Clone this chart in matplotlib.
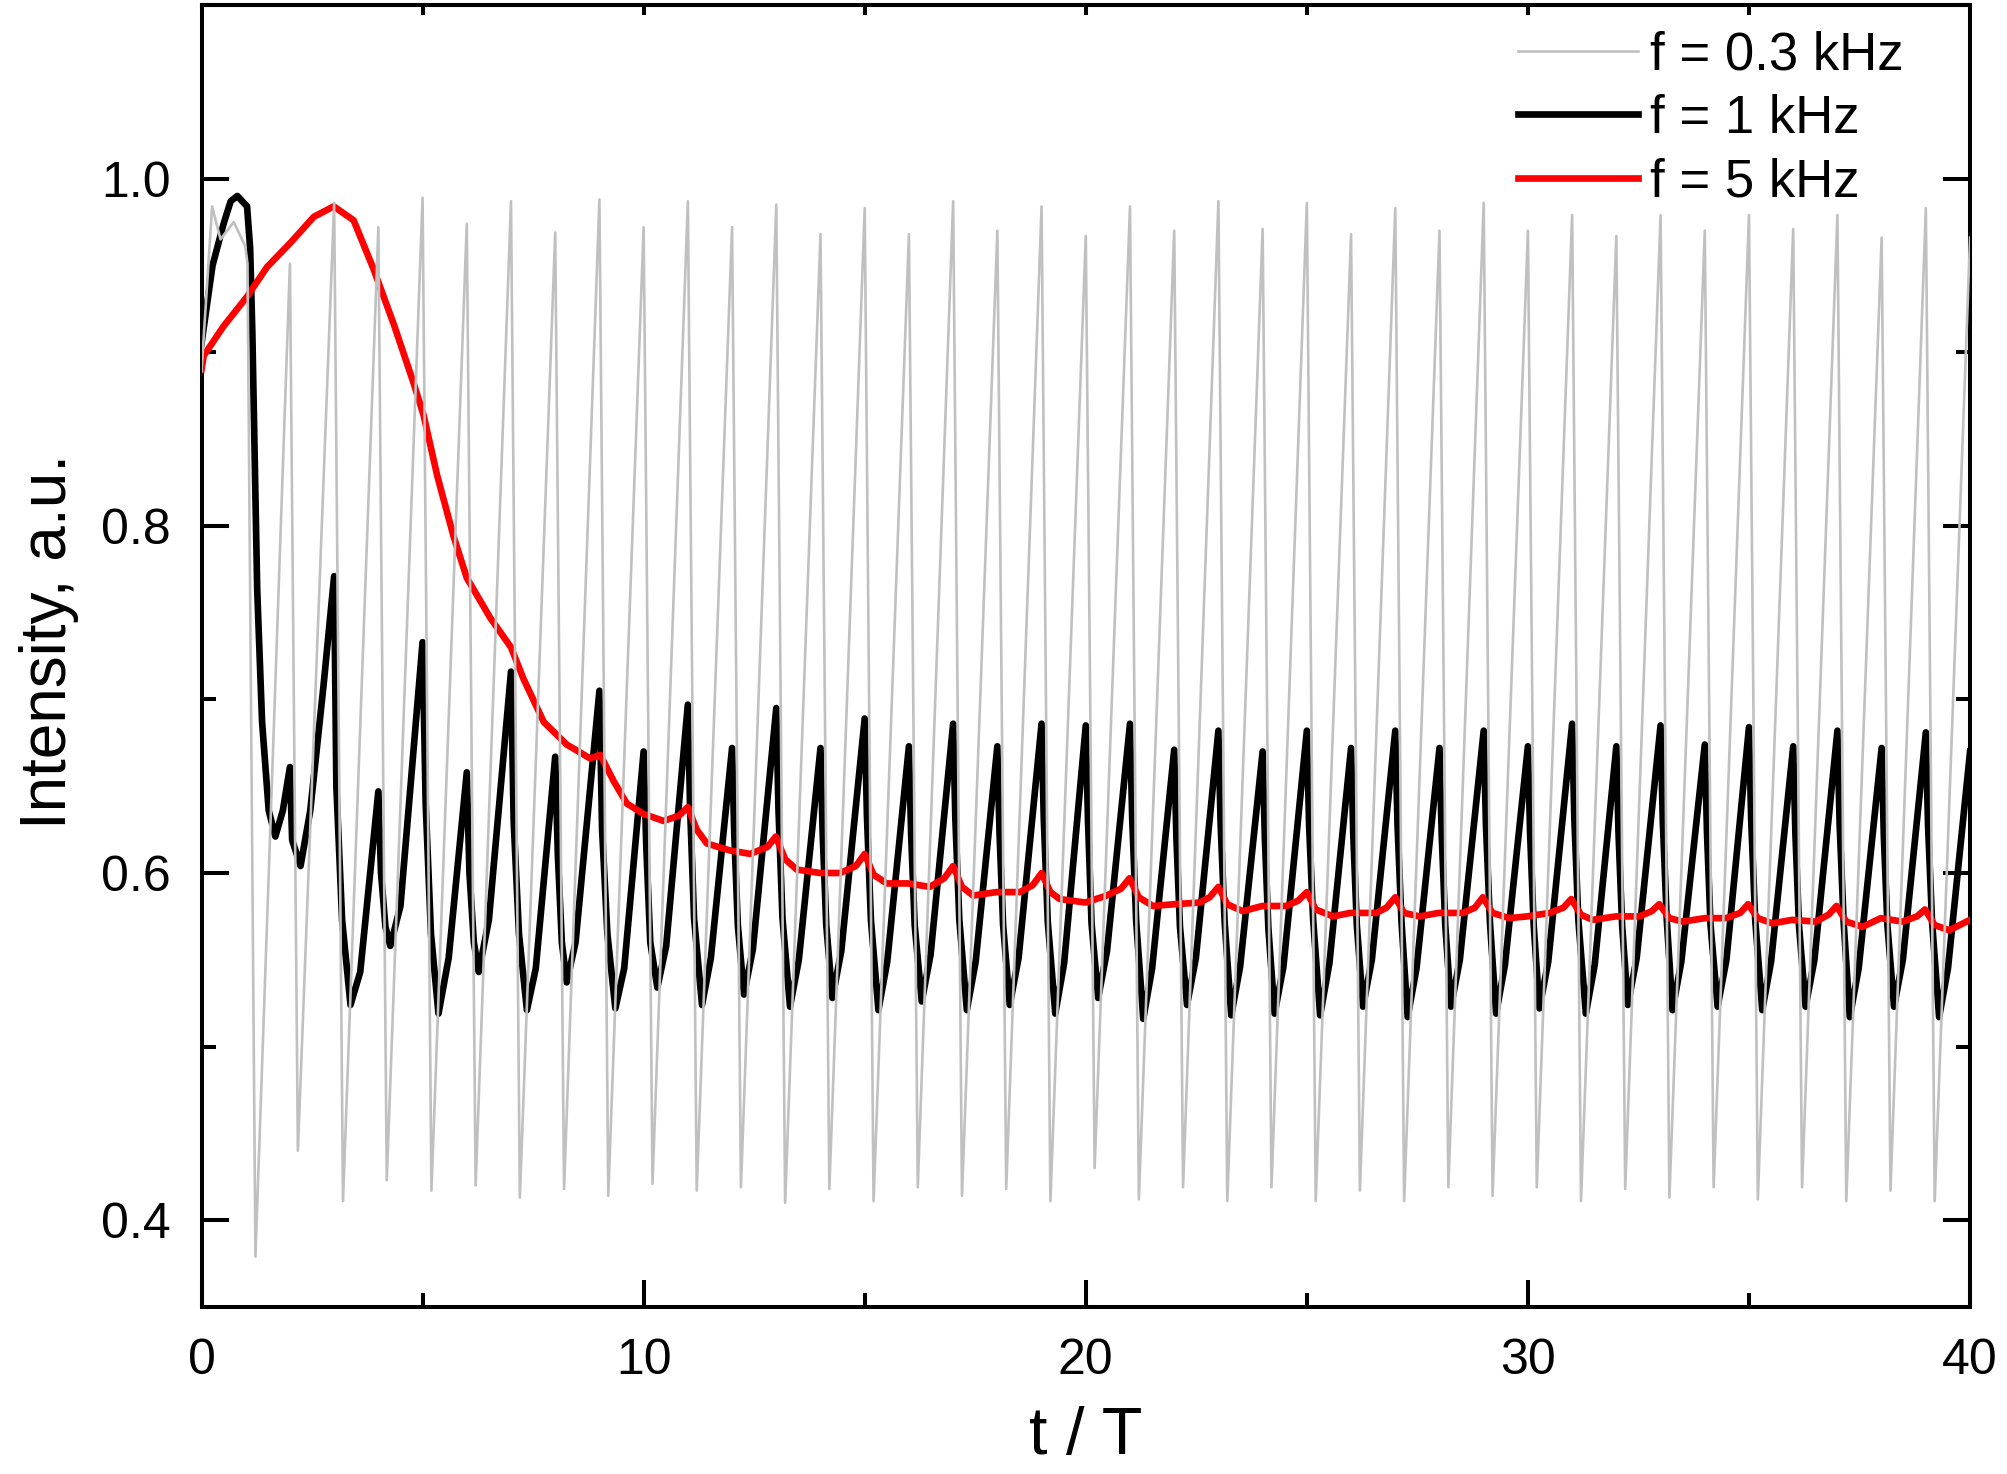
import matplotlib
matplotlib.use('Agg')
import matplotlib.pyplot as plt
from matplotlib.ticker import MultipleLocator
import numpy as np

plt.rcParams['font.family'] = ['Liberation Sans', 'DejaVu Sans']

# ---- f = 0.3 kHz (grey) ----
gray_start_t = [0.0, 0.24, 0.43, 0.73, 0.99, 1.04, 1.22]
gray_start_v = [0.889, 0.984, 0.965, 0.975, 0.961, 0.951, 0.379]
gray_peak_t = list(range(2, 41))
gray_peak_v = [0.951, 0.986, 0.972, 0.989, 0.974, 0.987, 0.969, 0.988, 0.972, 0.987,
               0.972, 0.985, 0.968, 0.983, 0.968, 0.987, 0.970, 0.984, 0.967, 0.984,
               0.970, 0.987, 0.971, 0.986, 0.968, 0.983, 0.970, 0.986, 0.970, 0.979,
               0.967, 0.979, 0.970, 0.979, 0.971, 0.979, 0.966, 0.983, 0.966]
gray_trough_t = [2.18, 3.20, 4.19, 5.20, 6.20, 7.20, 8.20, 9.20, 10.20, 11.20,
                 12.20, 13.20, 14.20, 15.20, 16.20, 17.20, 18.20, 19.20, 20.20, 21.20,
                 22.20, 23.20, 24.20, 25.20, 26.20, 27.20, 28.20, 29.20, 30.20, 31.20,
                 32.20, 33.20, 34.20, 35.20, 36.20, 37.20, 38.20, 39.20]
gray_trough_v = [0.440, 0.411, 0.423, 0.417, 0.420, 0.413, 0.418, 0.414, 0.421, 0.417,
                 0.419, 0.410, 0.418, 0.411, 0.419, 0.414, 0.418, 0.411, 0.430, 0.412,
                 0.419, 0.411, 0.419, 0.411, 0.417, 0.411, 0.419, 0.414, 0.419, 0.411,
                 0.418, 0.413, 0.419, 0.412, 0.419, 0.411, 0.417, 0.411]

# ---- f = 1 kHz (black) ----
black_start_t = [0.0, 0.25, 0.50, 0.66, 0.81, 1.03, 1.10, 1.15, 1.26, 1.37, 1.52, 1.67,
                 1.84, 2.00, 2.05, 2.24, 2.46, 2.76]
black_start_v = [0.905, 0.950, 0.974, 0.987, 0.990, 0.984, 0.960, 0.911, 0.763, 0.687,
                 0.636, 0.621, 0.636, 0.661, 0.619, 0.604, 0.636, 0.708]
black_peak_t = list(range(3, 41))
black_peak_v = [0.771, 0.647, 0.733, 0.658, 0.716, 0.667, 0.705, 0.670, 0.697, 0.672,
                0.695, 0.672, 0.689, 0.673, 0.686, 0.673, 0.686, 0.685, 0.686, 0.671,
                0.682, 0.670, 0.682, 0.672, 0.682, 0.672, 0.682, 0.673, 0.686, 0.673,
                0.685, 0.674, 0.684, 0.673, 0.682, 0.672, 0.681, 0.670]
black_knee1_t = [3.05, 4.06, 5.07, 6.06, 7.06, 8.06, 9.06, 10.06, 11.05, 12.05,
                 13.05, 14.05, 15.05, 16.05, 17.05, 18.05, 19.05, 20.05, 21.05, 22.05,
                 23.05, 24.05, 25.05, 26.05, 27.05, 28.05, 29.05, 30.05, 31.05, 32.05,
                 33.05, 34.05, 35.05, 36.05, 37.05, 38.05, 39.05]
black_knee1_v = [0.650, 0.600, 0.640, 0.600, 0.630, 0.610, 0.625, 0.615, 0.638, 0.622,
                 0.636, 0.622, 0.633, 0.622, 0.631, 0.622, 0.631, 0.630, 0.631, 0.620,
                 0.628, 0.620, 0.628, 0.622, 0.628, 0.622, 0.628, 0.622, 0.631, 0.622,
                 0.630, 0.623, 0.630, 0.622, 0.628, 0.621, 0.627]
black_knee2_t = [3.18, 4.16, 5.19, 6.16, 7.18, 8.15, 9.18, 10.15, 11.14, 12.13,
                 13.14, 14.13, 15.14, 16.13, 17.14, 18.13, 19.14, 20.13, 21.14, 22.13,
                 23.14, 24.13, 25.14, 26.13, 27.14, 28.13, 29.14, 30.13, 31.14, 32.13,
                 33.14, 34.13, 35.14, 36.13, 37.14, 38.13, 39.14]
black_knee2_v = [0.573, 0.569, 0.565, 0.560, 0.565, 0.560, 0.565, 0.560, 0.574, 0.570,
                 0.574, 0.570, 0.573, 0.570, 0.573, 0.570, 0.572, 0.571, 0.572, 0.569,
                 0.572, 0.568, 0.574, 0.570, 0.572, 0.570, 0.572, 0.570, 0.573, 0.570,
                 0.573, 0.570, 0.573, 0.570, 0.572, 0.570, 0.572]
black_trough_t = [3.37, 4.27, 5.36, 6.27, 7.36, 8.26, 9.36, 10.31, 11.32, 12.27,
                  13.31, 14.27, 15.31, 16.29, 17.31, 18.28, 19.31, 20.28, 21.30, 22.29,
                  23.29, 24.27, 25.30, 26.27, 27.28, 28.26, 29.28, 30.26, 31.31, 32.26,
                  33.27, 34.29, 35.30, 36.28, 37.28, 38.28, 39.30]
black_trough_v = [0.524, 0.558, 0.519, 0.543, 0.521, 0.537, 0.522, 0.534, 0.524, 0.530,
                  0.523, 0.528, 0.521, 0.526, 0.521, 0.524, 0.519, 0.528, 0.516, 0.524,
                  0.518, 0.519, 0.518, 0.523, 0.517, 0.523, 0.519, 0.522, 0.519, 0.524,
                  0.521, 0.523, 0.521, 0.523, 0.517, 0.523, 0.517]
# points on the rising side, about 0.2 after each trough
black_rise_t = [3.59, 4.50, 5.59, 6.50, 7.56, 8.46, 9.56, 10.51, 11.52, 12.47,
                13.51, 14.47, 15.51, 16.49, 17.51, 18.48, 19.51, 20.48, 21.50, 22.49,
                23.49, 24.47, 25.51, 26.47, 27.48, 28.46, 29.48, 30.46, 31.51, 32.46,
                33.47, 34.49, 35.50, 36.48, 37.48, 38.48, 39.50]
black_rise_v = [0.543, 0.581, 0.551, 0.573, 0.545, 0.560, 0.545, 0.558, 0.551, 0.556,
                0.550, 0.555, 0.549, 0.553, 0.549, 0.551, 0.548, 0.555, 0.545, 0.551,
                0.546, 0.546, 0.548, 0.550, 0.545, 0.550, 0.547, 0.549, 0.547, 0.551,
                0.549, 0.550, 0.549, 0.550, 0.545, 0.550, 0.545]

# ---- f = 5 kHz (red) ----
red_t = [0.0, 0.05, 0.5, 1.03, 1.48, 2.01, 2.54, 2.99, 3.44, 3.89,
         4.35, 4.8, 5.02, 5.33, 5.7, 6.0, 6.53, 7.0, 7.28, 7.74,
         8.26, 8.79, 9.02, 9.32, 9.62, 10.0, 10.45, 10.8, 11.0, 11.2,
         11.43, 11.95, 12.41, 12.8, 12.99, 13.2, 13.46, 13.99, 14.44, 14.8,
         15.0, 15.2, 15.5, 15.98, 16.47, 16.8, 17.0, 17.2, 17.45, 17.98,
         18.51, 18.8, 19.0, 19.2, 19.41, 19.99, 20.47, 20.8, 20.99, 21.2,
         21.52, 21.99, 22.58, 22.8, 23.0, 23.2, 23.55, 23.99, 24.53, 24.8,
         25.0, 25.2, 25.59, 25.98, 26.57, 26.8, 27.0, 27.2, 27.55, 27.98,
         28.53, 28.8, 28.98, 29.2, 29.58, 29.98, 30.49, 30.8, 30.98, 31.2,
         31.46, 31.99, 32.52, 32.8, 32.97, 33.2, 33.5, 34.0, 34.48, 34.8,
         34.98, 35.2, 35.53, 35.98, 36.51, 36.8, 36.98, 37.2, 37.57, 37.98,
         38.47, 38.8, 38.98, 39.2, 39.53, 40.0]
red_v = [0.890, 0.898, 0.915, 0.932, 0.949, 0.963, 0.978, 0.984, 0.976, 0.948,
         0.916, 0.882, 0.864, 0.829, 0.794, 0.770, 0.747, 0.730, 0.712, 0.687,
         0.674, 0.666, 0.668, 0.653, 0.640, 0.634, 0.630, 0.633, 0.638, 0.625,
         0.617, 0.613, 0.611, 0.615, 0.621, 0.608, 0.602, 0.600, 0.600, 0.604,
         0.611, 0.599, 0.594, 0.594, 0.592, 0.597, 0.604, 0.592, 0.587, 0.589,
         0.589, 0.593, 0.600, 0.589, 0.585, 0.583, 0.587, 0.591, 0.597, 0.586,
         0.581, 0.582, 0.583, 0.586, 0.592, 0.582, 0.578, 0.581, 0.581, 0.584,
         0.589, 0.579, 0.575, 0.577, 0.577, 0.580, 0.586, 0.577, 0.575, 0.577,
         0.577, 0.580, 0.586, 0.577, 0.574, 0.575, 0.577, 0.580, 0.585, 0.576,
         0.573, 0.575, 0.575, 0.578, 0.582, 0.574, 0.572, 0.574, 0.574, 0.577,
         0.582, 0.574, 0.571, 0.573, 0.572, 0.576, 0.581, 0.572, 0.569, 0.574,
         0.572, 0.575, 0.579, 0.570, 0.567, 0.573]

labels = ['f = 0.3 kHz', 'f = 1 kHz', 'f = 5 kHz']


def merge(ts, vs):
    t = np.concatenate([np.asarray(x, float) for x in ts])
    v = np.concatenate([np.asarray(x, float) for x in vs])
    order = np.argsort(t, kind='stable')
    return t[order], v[order]


gray_t, gray_v = merge([gray_start_t, gray_peak_t, gray_trough_t],
                       [gray_start_v, gray_peak_v, gray_trough_v])
black_t, black_v = merge([black_start_t, black_peak_t, black_knee1_t, black_knee2_t,
                          black_trough_t, black_rise_t],
                         [black_start_v, black_peak_v, black_knee1_v, black_knee2_v,
                          black_trough_v, black_rise_v])

fig = plt.figure(figsize=(20.07, 14.74), dpi=100)
ax = fig.add_axes([0.1004, 0.1133, 0.8812, 0.8833])

l_black, = ax.plot(black_t, black_v, color='black', lw=4.8, zorder=2,
                   solid_joinstyle='round')
l_red, = ax.plot(red_t, red_v, color='#ff0000', lw=4.8, zorder=3,
                 solid_joinstyle='round')
l_gray, = ax.plot(gray_t, gray_v, color='#c0c0c0', lw=1.9, zorder=4)

ax.set_xlim(0, 40)
ax.set_ylim(0.35, 1.1)
ax.xaxis.set_major_locator(MultipleLocator(10))
ax.xaxis.set_minor_locator(MultipleLocator(5))
ax.yaxis.set_major_locator(MultipleLocator(0.2))
ax.yaxis.set_minor_locator(MultipleLocator(0.1))

ax.tick_params(which='major', direction='in', length=19.5, width=2.9,
               labelsize=36, pad=22, right=True, top=False)
ax.tick_params(which='minor', direction='in', length=10, width=2.9,
               right=True, top=False)
for s in ax.spines.values():
    s.set_linewidth(2.9)

top = ax.secondary_xaxis('top')
top.xaxis.set_major_locator(MultipleLocator(5))
top.tick_params(direction='in', length=7, width=2.9, labeltop=False)
top.spines['top'].set_linewidth(2.9)

ax.set_xlabel('t / T', fontsize=48, labelpad=16)
ax.set_ylabel('Intensity, a.u.', fontsize=46, labelpad=16)
ax.yaxis.label.set_y(0.5115)

ax.legend([l_gray, l_black, l_red], labels, loc='upper left',
          bbox_to_anchor=(0.7446, 0.9805), fontsize=38, frameon=False,
          handlelength=2.27, handletextpad=0.23, labelspacing=0.256,
          borderpad=0, borderaxespad=0)

fig.savefig('out.png', dpi=100)
